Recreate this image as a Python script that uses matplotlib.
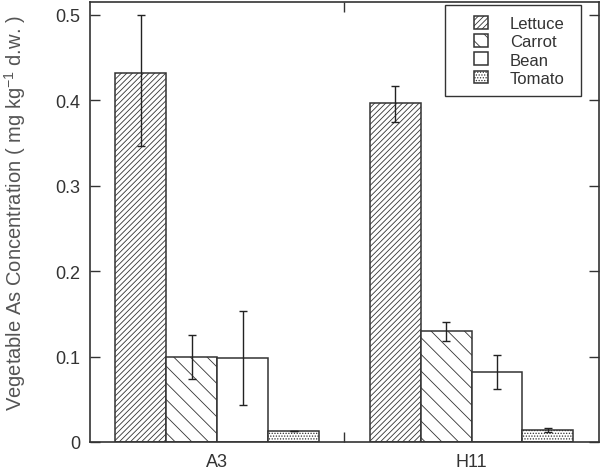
import matplotlib
matplotlib.use("Agg")
import matplotlib.pyplot as plt
import numpy as np
from matplotlib.patches import Rectangle
from matplotlib.ticker import FixedLocator

# datos
sitios = ["A3", "H11"]
vegetales = ["Lettuce", "Carrot", "Bean", "Tomato"]
lettuce = [0.432, 0.397]
carrot = [0.100, 0.130]
bean = [0.098, 0.082]
tomato = [0.013, 0.014]
err_bajo = [[0.086, 0.026, 0.055, 0.0], [0.023, 0.012, 0.020, 0.002]]
err_alto = [[0.068, 0.025, 0.055, 0.0], [0.020, 0.011, 0.020, 0.002]]

plt.rcParams["font.family"] = ["Liberation Sans", "DejaVu Sans"]
plt.rcParams["mathtext.default"] = "regular"
plt.rcParams["hatch.linewidth"] = 0.6
plt.rcParams["hatch.color"] = "#333333"

gris = "#333333"
estilos = ["//////", "\\\\", "", "......"]
valores = [lettuce, carrot, bean, tomato]

fig = plt.figure(figsize=(6.0, 4.77), dpi=100)
ax = fig.add_axes([0.15, 0.0713, 0.848, 0.9224])

ancho = 0.2
centros = np.arange(len(sitios)) + 0.5
for i, (nombre, vals) in enumerate(zip(vegetales, valores)):
    x = centros + (i - 1.5) * ancho
    lo = [err_bajo[g][i] for g in range(len(sitios))]
    hi = [err_alto[g][i] for g in range(len(sitios))]
    ax.bar(x, vals, ancho, color="white", edgecolor=gris, linewidth=1.1,
           hatch=estilos[i], label=nombre)
    ax.errorbar(x, vals, yerr=[lo, hi], fmt="none", ecolor="#222222",
                elinewidth=1.0, capsize=3, capthick=1.0)

ax.set_xlim(0, 2)
ax.set_ylim(0, 0.515)
ax.set_xticks(centros)
ax.set_xticklabels(sitios, fontsize=13, color=gris)
ax.tick_params(axis="x", length=0, pad=8)
ax.xaxis.set_minor_locator(FixedLocator([1.0]))
ax.tick_params(axis="x", which="minor", direction="in", length=7,
               top=True, bottom=True, color=gris, width=1.0)
ax.set_yticks([0, 0.1, 0.2, 0.3, 0.4, 0.5])
ax.set_yticklabels(["0", "0.1", "0.2", "0.3", "0.4", "0.5"], fontsize=13,
                   color=gris)
ax.tick_params(axis="y", direction="in", length=7, left=True, right=True,
               color=gris, width=1.0, pad=7)
for s in ax.spines.values():
    s.set_color(gris)
    s.set_linewidth(1.2)

fig.text(15 / 600, 1 - 213 / 477,
         "Vegetable As Concentration ( mg kg$^{-1}$ d.w. )",
         rotation=90, ha="center", va="center", fontsize=14.5, color="#555555")

# leyenda sin marco, el marco se dibuja aparte
leg = ax.legend(loc="upper left", bbox_to_anchor=((474 - 90) / 509, (443 - 17) / 440),
                fontsize=12, frameon=False, handlelength=0.85, handleheight=0.8,
                handletextpad=1.3, labelspacing=0.18, borderpad=0.0,
                borderaxespad=0.0)
for t in leg.get_texts():
    t.set_color(gris)
ax.add_patch(Rectangle(((445 - 90) / 509, (443 - 97) / 440), 136 / 509, 91 / 440,
                       transform=ax.transAxes, fill=False, edgecolor=gris,
                       linewidth=1.0, zorder=5))

fig.savefig("out.png", dpi=100)
